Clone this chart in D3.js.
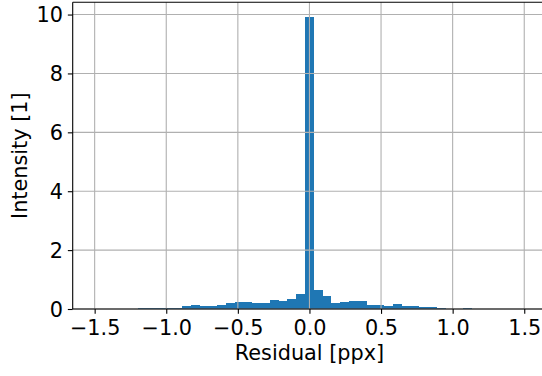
<!DOCTYPE html>
<html>
<head>
<meta charset="utf-8">
<script src="https://cdn.jsdelivr.net/npm/d3@7"></script>
<style>
  html, body { margin: 0; padding: 0; background: #ffffff; }
  svg { display: block; font-family: "DejaVu Sans", sans-serif; }
</style>
</head>
<body>
<svg id="chart" width="542" height="376"></svg>
<script>
// Histogram of residuals (density per bin)
const binLo = -1.503;
const binHi = 1.503;
const density = [
  0, 0, 0, 0, 0,
  0.034, 0.034, 0.034, 0.034, 0.034,
  0.103, 0.137, 0.103, 0.103, 0.137,
  0.205, 0.240, 0.240, 0.205, 0.205,
  0.309, 0.274, 0.343, 0.514,
  9.92,
  0.652, 0.446, 0.206, 0.240, 0.274, 0.274,
  0.137, 0.137, 0.103, 0.171,
  0.103, 0.103, 0.069, 0.069, 0.034,
  0, 0, 0.034,
  0, 0, 0, 0, 0, 0
];
const xTicks = [-1.5, -1.0, -0.5, 0.0, 0.5, 1.0, 1.5];
const yTicks = [0, 2, 4, 6, 8, 10];
const xLabel = "Residual [ppx]";
const yLabel = "Intensity [1]";

const svg = d3.select("#chart");
const W = 542, H = 376;
const plot = { left: 72.7, top: 2.3, right: 546.2, bottom: 309 };

// axis limits with the usual 5% padding around the bins / top of tallest bar
const span = binHi - binLo;
const x = d3.scaleLinear()
  .domain([binLo - 0.05 * span, binHi + 0.05 * span])
  .range([plot.left, plot.right]);
const y = d3.scaleLinear()
  .domain([0, d3.max(density) * 1.05])
  .range([plot.bottom, plot.top]);

const nBins = density.length;
const step = span / nBins;
const bins = density.map((v, i) => ({ x0: binLo + i * step, x1: binLo + (i + 1) * step, v }));

const fontSize = 20.8;
const tickLen = 4.86;
const lw = 1.1;

svg.append("rect").attr("width", W).attr("height", H).attr("fill", "#ffffff");

// bars
svg.append("g")
  .selectAll("rect")
  .data(bins.filter(d => d.v > 0))
  .join("rect")
  .attr("x", d => x(d.x0))
  .attr("width", d => x(d.x1) - x(d.x0))
  .attr("y", d => y(d.v))
  .attr("height", d => y(0) - y(d.v))
  .attr("fill", "#1f77b4")
  .attr("shape-rendering", "crispEdges");

// grid (drawn above the bars)
const grid = svg.append("g").attr("stroke", "#b0b0b0").attr("stroke-width", lw);
grid.selectAll("line.gx").data(xTicks).join("line")
  .attr("class", "gx")
  .attr("x1", d => x(d)).attr("x2", d => x(d))
  .attr("y1", plot.top).attr("y2", plot.bottom);
grid.selectAll("line.gy").data(yTicks).join("line")
  .attr("class", "gy")
  .attr("x1", plot.left).attr("x2", plot.right)
  .attr("y1", d => y(d)).attr("y2", d => y(d));

// axes
const fmtX = d => d3.format(".1f")(d).replace("-", "\u2212");
const xAxis = d3.axisBottom(x).tickValues(xTicks).tickFormat(fmtX)
  .tickSizeInner(tickLen).tickSizeOuter(0).tickPadding(4.86);
const yAxis = d3.axisLeft(y).tickValues(yTicks).tickFormat(d3.format("d"))
  .tickSizeInner(tickLen).tickSizeOuter(0).tickPadding(4.86);

const gx = svg.append("g").attr("transform", `translate(0,${plot.bottom})`).call(xAxis);
const gy = svg.append("g").attr("transform", `translate(${plot.left},0)`).call(yAxis);

[gx, gy].forEach(g => {
  g.select(".domain").remove();
  g.selectAll(".tick line").attr("stroke", "#000").attr("stroke-width", lw);
  g.selectAll(".tick text")
    .attr("fill", "#000")
    .style("font-family", "DejaVu Sans")
    .style("font-size", fontSize + "px");
});
gx.selectAll(".tick text").attr("dy", null).attr("y", 25.5);
gy.selectAll(".tick text").attr("dy", null).attr("y", 7.4);

// spines: left, bottom, top (right one lies past the canvas edge)
const spines = svg.append("g").attr("stroke", "#000").attr("stroke-width", lw).attr("fill", "none");
spines.append("line").attr("x1", plot.left).attr("x2", plot.left).attr("y1", plot.top).attr("y2", plot.bottom);
spines.append("line").attr("x1", plot.left).attr("x2", plot.right).attr("y1", plot.bottom).attr("y2", plot.bottom);
spines.append("line").attr("x1", plot.left).attr("x2", plot.right).attr("y1", plot.top).attr("y2", plot.top);
spines.append("line").attr("x1", plot.right).attr("x2", plot.right).attr("y1", plot.top).attr("y2", plot.bottom);

// axis labels
svg.append("text")
  .attr("x", (plot.left + plot.right) / 2)
  .attr("y", 360)
  .attr("text-anchor", "middle")
  .style("font-size", fontSize + "px")
  .attr("fill", "#000")
  .text(xLabel);

svg.append("text")
  .attr("transform", `translate(26.7,${(plot.top + plot.bottom) / 2}) rotate(-90)`)
  .attr("text-anchor", "middle")
  .style("font-size", fontSize + "px")
  .attr("fill", "#000")
  .text(yLabel);
</script>
</body>
</html>
